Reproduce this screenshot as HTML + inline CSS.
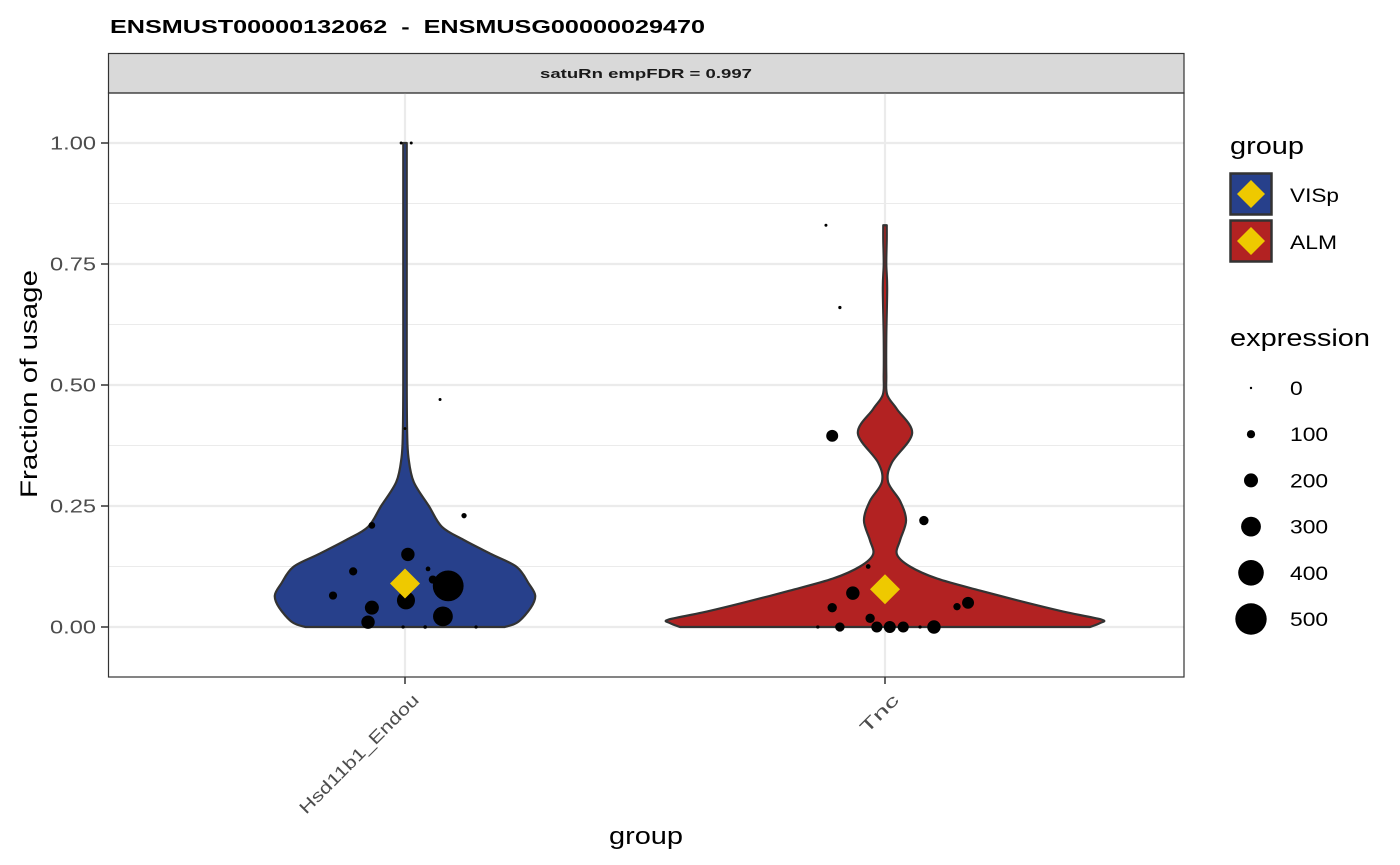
<!DOCTYPE html>
<html><head><meta charset="utf-8">
<style>
html,body{margin:0;padding:0;background:#fff;}
svg{display:block;font-family:"Liberation Sans",Arial,sans-serif;}
</style></head>
<body>
<svg id="chart" width="1400" height="865" viewBox="0 0 1400 865" xmlns="http://www.w3.org/2000/svg">
<rect x="0" y="0" width="1400" height="865" fill="#fff"/>
<text x="110" y="33" font-size="18" font-weight="bold" fill="#000" textLength="595" lengthAdjust="spacingAndGlyphs" xml:space="preserve">ENSMUST00000132062  -  ENSMUSG00000029470</text>
<rect x="108.5" y="53.5" width="1075.5" height="39.5" fill="#d9d9d9" stroke="#333" stroke-width="1.2"/>
<text x="646" y="78" font-size="13" font-weight="bold" fill="#1a1a1a" text-anchor="middle" textLength="212" lengthAdjust="spacingAndGlyphs">satuRn empFDR = 0.997</text>
<g id="grid"></g>
<g id="violins"></g>
<g id="points"></g>
<g id="means"></g>
<rect x="108.5" y="93" width="1075.5" height="584" fill="none" stroke="#333" stroke-width="1.2"/>
<g id="axes"></g>
<text transform="translate(37,384) rotate(-90)" font-size="24" text-anchor="middle" fill="#000" textLength="228" lengthAdjust="spacingAndGlyphs">Fraction of usage</text>
<text x="646" y="844" font-size="24" text-anchor="middle" fill="#000" textLength="74" lengthAdjust="spacingAndGlyphs">group</text>
<g id="legend">
<text x="1230" y="154" font-size="24" fill="#000" textLength="74" lengthAdjust="spacingAndGlyphs">group</text>
<g>
<rect x="1230.5" y="173.5" width="41" height="41" fill="#27408b" stroke="#333" stroke-width="2.5"/>
<polygon points="1251,180 1265,194 1251,208 1237,194" fill="#eec900"/>
<text x="1290" y="202" font-size="19" fill="#000" textLength="49" lengthAdjust="spacingAndGlyphs">VISp</text>
</g>
<g>
<rect x="1230.5" y="220.5" width="41" height="41" fill="#b22222" stroke="#333" stroke-width="2.5"/>
<polygon points="1251,227 1265,241 1251,255 1237,241" fill="#eec900"/>
<text x="1290" y="249" font-size="19" fill="#000" textLength="47" lengthAdjust="spacingAndGlyphs">ALM</text>
</g>
<text x="1230" y="346" font-size="24" fill="#000" textLength="140" lengthAdjust="spacingAndGlyphs">expression</text>
<g id="sizeLegend"></g>
</g>
</svg>
<script>
const NS = "http://www.w3.org/2000/svg";
// ---- data ----
const categories = ["Hsd11b1_Endou", "Tnc"];
const catLabelLen = [161, 47];
const yTicks = [0, 0.25, 0.5, 0.75, 1.0];
const yTickLabels = ["0.00", "0.25", "0.50", "0.75", "1.00"];
const yMinor = [0.125, 0.375, 0.625, 0.875];
const violin1Levels = [0, 0.01, 0.04, 0.065, 0.09, 0.124, 0.15, 0.18, 0.207, 0.25, 0.3, 0.35, 0.4, 0.5, 0.7, 0.9, 1.0];
const violin1Width  = [0.46, 0.52, 0.58, 0.60, 0.57, 0.515, 0.40, 0.27, 0.17, 0.11, 0.04, 0.016, 0.01, 0.008, 0.008, 0.008, 0.008];
const violin2Levels = [0, 0.008, 0.015, 0.03, 0.05, 0.075, 0.1, 0.125, 0.15, 0.18, 0.22, 0.26, 0.3, 0.34, 0.4, 0.45, 0.48, 0.52, 0.6, 0.7, 0.75, 0.8, 0.83];
const violin2Width  = [0.945, 0.99, 1.0, 0.84, 0.655, 0.44, 0.24, 0.115, 0.055, 0.07, 0.097, 0.07, 0.014, 0.032, 0.125, 0.055, 0.01, 0.006, 0.006, 0.01, 0.006, 0.008, 0.008];
const violinMaxWidth = 217;
const ptCat    = [0,0,0,0,0,0,0,0,0,0,0,0,0,0,0,0,0,0,0,  1,1,1,1,1,1,1,1,1,1,1,1,1,1,1,1,1,1];
const ptJitter = [-0.008,0.013,0.0,0.073,0.123,-0.069,0.006,-0.108,0.048,0.058,0.090,-0.150,0.002,-0.069,-0.077,0.079,-0.004,0.042,0.148,
                  -0.123,-0.094,-0.110,0.081,-0.035,-0.067,-0.110,-0.031,0.150,0.173,-0.140,-0.094,-0.017,0.010,0.038,0.073,0.102];
const ptUsage  = [1.0,1.0,0.41,0.47,0.23,0.21,0.15,0.115,0.12,0.098,0.085,0.065,0.055,0.04,0.01,0.022,0.0,0.0,0.0,
                  0.83,0.66,0.395,0.22,0.125,0.07,0.04,0.018,0.042,0.05,0.0,0.0,0.0,0.0,0.0,0.0,0.0];
const ptExpr   = [10,10,10,10,50,75,190,100,40,100,490,100,270,200,190,300,15,20,15,
                  10,15,165,120,40,190,120,120,85,165,15,120,150,165,150,15,190];
const meanUsage = [0.09, 0.078];
const groupColors = ["#27408b", "#b22222"];
const sizeBreaks = [0, 100, 200, 300, 400, 500];
// ---- scales ----
const X0 = 405, XSTEP = 480;
function xPos(c){ return X0 + c*XSTEP; }
function yPos(v){ return 627 - 484*v; }
function rSize(e){ return 1.2 + 2.9*e/100; }
function mk(tag, attrs, parent){ const el=document.createElementNS(NS,tag); for(const k in attrs) el.setAttribute(k,attrs[k]); parent.appendChild(el); return el; }

const grid = document.getElementById("grid");
yMinor.forEach(v=>{ const l=mk("line",{x1:109,x2:1184,y1:yPos(v),y2:yPos(v),stroke:"#ebebeb","stroke-width":1},grid);
  
   });
yTicks.forEach(v=>{ const l=mk("line",{x1:109,x2:1184,y1:yPos(v),y2:yPos(v),stroke:"#ebebeb","stroke-width":2.2},grid);
  
   });
categories.forEach((c,i)=>{ const l=mk("line",{x1:xPos(i),x2:xPos(i),y1:93,y2:677,stroke:"#ebebeb","stroke-width":2.2},grid);
  
   });

function violinPath(cx, levels, widths){
  let right=[], left=[];
  for(let i=0;i<levels.length;i++){ right.push([cx+widths[i]*violinMaxWidth, yPos(levels[i])]); left.push([cx-widths[i]*violinMaxWidth, yPos(levels[i])]); }
  function cr(pts){ let d=""; for(let i=0;i<pts.length-1;i++){ const p0=pts[Math.max(i-1,0)],p1=pts[i],p2=pts[i+1],p3=pts[Math.min(i+2,pts.length-1)];
    const c1=[p1[0]+(p2[0]-p0[0])/6,p1[1]+(p2[1]-p0[1])/6], c2=[p2[0]-(p3[0]-p1[0])/6,p2[1]-(p3[1]-p1[1])/6];
    d+=` C${c1[0]},${c1[1]} ${c2[0]},${c2[1]} ${p2[0]},${p2[1]}`; } return d; }
  const lt = left.slice().reverse();
  return `M${right[0][0]},${right[0][1]}` + cr(right) + ` L${lt[0][0]},${lt[0][1]}` + cr(lt) + " Z";
}
const vg = document.getElementById("violins");
const v1 = mk("path",{d:violinPath(xPos(0),violin1Levels,violin1Width),fill:groupColors[0],stroke:"#333","stroke-width":2.2,"stroke-linejoin":"round"},vg);


const v2 = mk("path",{d:violinPath(xPos(1),violin2Levels,violin2Width),fill:groupColors[1],stroke:"#333","stroke-width":2.2,"stroke-linejoin":"round"},vg);



const pg = document.getElementById("points");
for(let i=0;i<ptUsage.length;i++){
  const c = mk("circle",{cx:xPos(ptCat[i])+ptJitter[i]*XSTEP, cy:yPos(ptUsage[i]), r:rSize(ptExpr[i]), fill:"#000"},pg);
  
  
}
const mg = document.getElementById("means");
meanUsage.forEach((m,i)=>{ const cx=xPos(i), cy=yPos(m), h=15;
  const p=mk("polygon",{points:`${cx},${cy-h} ${cx+h},${cy} ${cx},${cy+h} ${cx-h},${cy}`,fill:"#eec900"},mg);
  
   });

const ax = document.getElementById("axes");
yTicks.forEach((v,i)=>{
  const t=mk("line",{x1:101,x2:108,y1:yPos(v),y2:yPos(v),stroke:"#333","stroke-width":1.5},ax);
  
  
  const tx=mk("text",{x:96,y:yPos(v)+6.5,"font-size":18,"text-anchor":"end",fill:"#4d4d4d",textLength:46,lengthAdjust:"spacingAndGlyphs"},ax);
  tx.textContent=yTickLabels[i];
  
  
});
categories.forEach((c,i)=>{
  const t=mk("line",{x1:xPos(i),x2:xPos(i),y1:677,y2:684,stroke:"#333","stroke-width":1.5},ax);
  
  
  const tx=mk("text",{transform:`translate(${xPos(i)+6},${692}) rotate(-45)`,"font-size":17,"text-anchor":"end",fill:"#4d4d4d",dy:"0.75em",textLength:catLabelLen[i],lengthAdjust:"spacingAndGlyphs"},ax);
  tx.textContent=c;
  
  
});

const sl = document.getElementById("sizeLegend");
sizeBreaks.forEach((b,i)=>{ const y=388+i*46.2;
  const c=mk("circle",{cx:1251,cy:y,r:(b===0?1.2:rSize(b)),fill:"#000"},sl);
  
  
  const lbl=String(b);
  const t=mk("text",{x:1290,y:y+7,"font-size":19,fill:"#000",textLength:lbl.length*12.7,lengthAdjust:"spacingAndGlyphs"},sl);
  t.textContent=lbl;
  
  
});
</script>
</body></html>
